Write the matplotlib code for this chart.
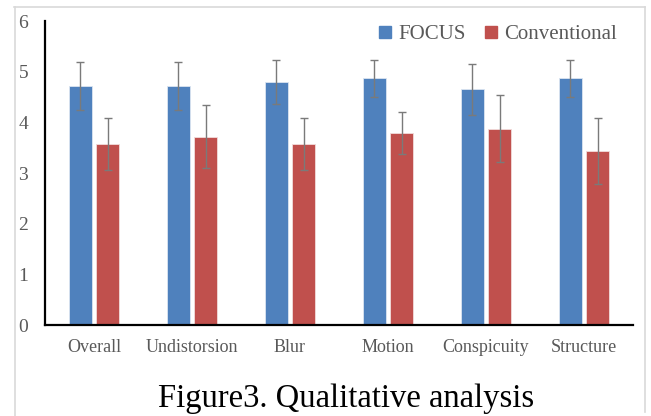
import matplotlib
matplotlib.use("Agg")
import matplotlib.pyplot as plt
import numpy as np
from matplotlib.lines import Line2D

categories = ["Overall", "Undistorsion", "Blur", "Motion", "Conspicuity", "Structure"]
focus_mean = [4.72, 4.72, 4.80, 4.87, 4.65, 4.87]
focus_err = [0.47, 0.47, 0.43, 0.37, 0.50, 0.37]
conv_mean = [3.57, 3.72, 3.57, 3.79, 3.87, 3.43]
conv_err = [0.51, 0.62, 0.51, 0.42, 0.66, 0.65]
yticks = [0, 1, 2, 3, 4, 5, 6]
series_names = ["FOCUS", "Conventional"]
caption = "Figure3. Qualitative analysis"

plt.rcParams['font.family'] = ['Liberation Serif', 'DejaVu Serif']

W, H = 651, 416
fig = plt.figure(figsize=(W / 100, H / 100), dpi=100)
ax = fig.add_axes([45 / W, 91 / H, (633 - 45) / W, (325 - 21) / H])

x = np.arange(len(categories))
bw = 0.235
off = 0.14
blue = "#4F81BD"
red = "#C0504D"
ekw = dict(ecolor="#7a7a7a", elinewidth=1.0, capsize=3, capthick=1.0)
ax.bar(x - off, focus_mean, bw, color=blue, edgecolor="#dbe5f1", linewidth=0.6,
       yerr=focus_err, error_kw=ekw, label=series_names[0], zorder=2)
ax.bar(x + off, conv_mean, bw, color=red, edgecolor="#f2dcdb", linewidth=0.6,
       yerr=conv_err, error_kw=ekw, label=series_names[1], zorder=2)

ax.set_xlim(-0.5, len(categories) - 0.5)
ax.set_ylim(0, 6)
ax.set_yticks(yticks)
ax.set_xticks(x)
ax.set_xticklabels(categories, fontsize=13, color="#595959")
ax.tick_params(axis="y", length=0, labelsize=14, labelcolor="#595959")
ax.tick_params(axis="x", length=0, pad=10)
for lab in ax.get_yticklabels():
    lab.set_horizontalalignment("left")
    lab.set_x(-0.045)
ax.tick_params(axis="y", pad=0)
for s in ["top", "right"]:
    ax.spines[s].set_visible(False)
for s in ["left", "bottom"]:
    ax.spines[s].set_color("black")
    ax.spines[s].set_linewidth(1.6)

handles = [Line2D([], [], marker="s", linestyle="none", markersize=8,
                  markerfacecolor=c, markeredgecolor=c) for c in (blue, red)]
leg = fig.legend(handles, series_names, loc="center left",
                 bbox_to_anchor=(375 / W, 1 - 34 / H),
                 ncol=2, frameon=False, fontsize=15, handletextpad=0.1,
                 columnspacing=0.75, handlelength=1.0, labelcolor="#595959",
                 borderpad=0, borderaxespad=0)

# outer chart border
bc = "#d9d9d9"
fig.add_artist(Line2D([14 / W, 645 / W], [1 - 6.5 / H, 1 - 6.5 / H], color=bc, lw=1.2))
fig.add_artist(Line2D([14.5 / W, 14.5 / W], [1 - 6.5 / H, -0.05], color=bc, lw=1.2))
fig.add_artist(Line2D([645 / W, 645 / W], [1 - 6.5 / H, 1 - 412 / H], color=bc, lw=1.2))

fig.text(346 / W, 1 - 407 / H, caption, ha="center", va="baseline",
         fontsize=23.5, color="black")

fig.savefig("out.png", dpi=100)
